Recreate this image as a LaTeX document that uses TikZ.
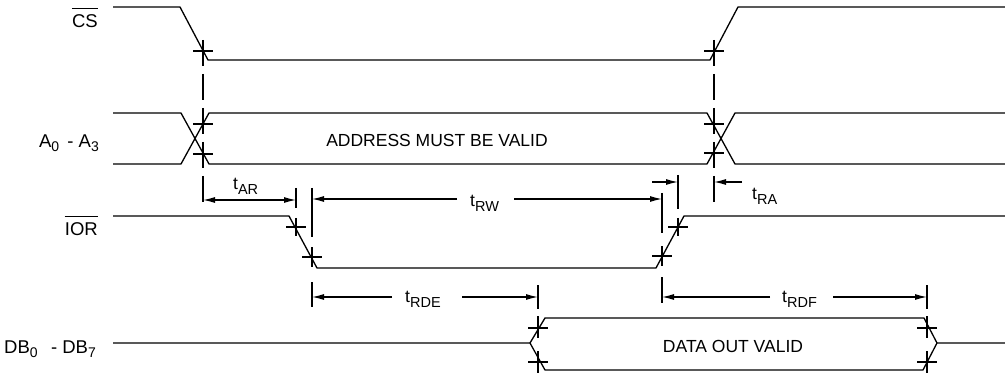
\documentclass[tikz,border=0pt]{standalone}
\usepackage{fontspec}
\setmainfont{Liberation Sans}
\usetikzlibrary{arrows.meta}
\newcommand\tlab[1]{t\raisebox{-5pt}{\fontsize{14.5}{14.5}\selectfont #1}}
\newcommand\lsub[1]{\raisebox{-4.5pt}{\fontsize{14}{14}\selectfont #1}}
\begin{document}
\begin{tikzpicture}[x=1pt,y=-1pt,
  sig/.style={line width=1.3pt, line join=miter},
  tick/.style={line width=1.1pt},
  ext/.style={line width=1.2pt},
  arr/.style={-{Latex[length=12pt,width=6pt]}, line width=1.2pt},
  lbl/.style={font=\fontsize{17.5}{20}\selectfont, inner sep=0pt},
  sl/.style={font=\fontsize{18.5}{20}\selectfont, inner sep=0pt, anchor=east}]
\useasboundingbox (0,0) rectangle (1005,377);
% signal labels
\node[sl] (cs) at (98,21) {CS};
\draw[line width=1pt] ([yshift=6pt]cs.north west) -- ([yshift=6pt]cs.north east);
\node[sl] (addr) at (99,143) {A\lsub{0}\, - A\lsub{3}};
\node[sl] (ior) at (98,229) {IOR};
\draw[line width=1pt] ([yshift=6pt]ior.north west) -- ([yshift=6pt]ior.north east);
\node[sl] (db) at (96,349) {DB\lsub{0}\;\, - DB\lsub{7}};
% CS waveform
\draw[sig] (113,7) -- (180,7) -- (208,60) -- (710,60) -- (738,7) -- (1005,7);
% Address waveform
\draw[sig] (113,113) -- (181,113) -- (209,164) -- (707,164) -- (735,113) -- (1005,113);
\draw[sig] (113,164) -- (181,164) -- (209,113) -- (707,113) -- (735,164) -- (1005,164);
\node[lbl] (addrtxt) at (437,140) {ADDRESS MUST BE VALID};
% IOR waveform
\draw[sig] (113,216) -- (289,216) -- (317,268) -- (656,268) -- (684,216) -- (1005,216);
% DB waveform
\draw[sig] (113,343) -- (530,343) -- (545,318) -- (924,318) -- (937,343) -- (1005,343);
\draw[sig] (530,343) -- (545,370) -- (923,370) -- (937,343);
\node[lbl] (datatxt) at (733,346) {DATA OUT VALID};
% crossing markers
\foreach \x/\y in {203/51, 714/51, 203/124, 203/154, 714/124, 714/153,
                   296/227, 312/257, 662/256, 678/227,
                   538/328, 538/362, 927/328, 927/362}
  \draw[tick] (\x,\y) +(-10,0) -- +(10,0);
% long dashed reference lines
\draw[ext, dash pattern=on 26pt off 8pt] (203,40) -- (203,207);
\draw[ext, dash pattern=on 26pt off 8pt] (714,40) -- (714,205);
% extension lines
\draw[ext] (296,188) -- (296,208);
\draw[ext] (296,218) -- (296,236);
\draw[ext] (312,188) -- (312,237) (312,247) -- (312,267) (312,282) -- (312,307);
\draw[ext] (662,193) -- (662,233) (662,246) -- (662,266) (662,277) -- (662,303);
\draw[ext] (678,175) -- (678,209) (678,218) -- (678,236);
\draw[ext] (538,285) -- (538,309) (538,316) -- (538,338) (538,351) -- (538,373);
\draw[ext] (927,285) -- (927,309) (927,316) -- (927,338) (927,351) -- (927,373);
% t_AR
\coordinate (ar1) at (203,200);
\coordinate (ar2) at (296,200);
\draw[arr, {Latex[length=12pt,width=6pt]}-{Latex[length=12pt,width=6pt]}] (ar1) -- (ar2);
\node[lbl, anchor=base west] (tar) at (233,190) {\tlab{AR}};
% t_RW
\node[lbl, anchor=base west] (trw) at (470,207) {\tlab{RW}};
\coordinate (rw1) at (312,199);
\coordinate (rw2) at (662,199);
\draw[arr] (rw1 -| trw.west) ++(-13,0) -- (rw1);
\draw[arr] (rw2 -| trw.east) ++(15,0) -- (rw2);
% small arrow and t_RA
\coordinate (sa1) at (652,182);
\coordinate (sa2) at (678,182);
\draw[arr] (sa1) -- (sa2);
\coordinate (ra1) at (742,182);
\coordinate (ra2) at (714,182);
\draw[arr] (ra1) -- (ra2);
\node[lbl, anchor=base west] (tra) at (752,200) {\tlab{RA}};
% t_RDE
\node[lbl, anchor=base west] (trde) at (405,302) {\tlab{RDE}};
\coordinate (rde1) at (312,297);
\coordinate (rde2) at (538,297);
\draw[arr] (392,297) -- (rde1);
\draw[arr] (462,297) -- (rde2);
% t_RDF
\node[lbl, anchor=base west] (trdf) at (782,302) {\tlab{RDF}};
\coordinate (rdf1) at (662,297);
\coordinate (rdf2) at (927,297);
\draw[arr] (770,297) -- (rdf1);
\draw[arr] (833,297) -- (rdf2);
\end{tikzpicture}
\end{document}
